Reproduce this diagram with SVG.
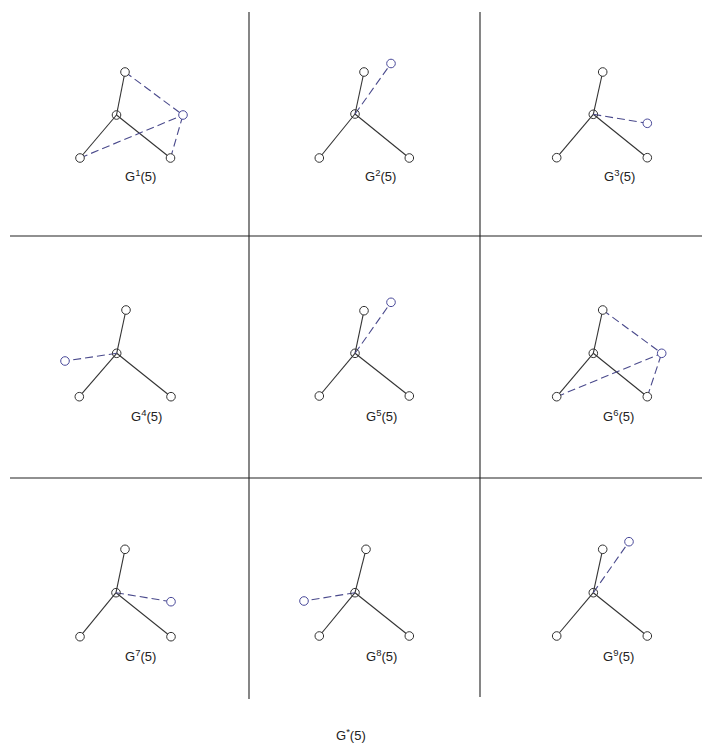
<svg xmlns="http://www.w3.org/2000/svg" width="702" height="745" viewBox="0 0 702 745">
<style>
.grid{stroke:#222;stroke-width:1.1;fill:none}
.e{stroke:#333;stroke-width:1.1;fill:none}
.d{stroke:#4a4a8c;stroke-width:1.1;stroke-dasharray:8 4;fill:none}
.n{fill:#fff;stroke:#333;stroke-width:1}
.nc{fill:none;stroke:#333;stroke-width:1}
.nb{fill:#fff;stroke:#4a4a9a;stroke-width:1}
text{font-family:"Liberation Sans",Arial,sans-serif;font-size:13px;fill:#222}
.sup{font-size:9.5px}
</style>
<rect width="702" height="745" fill="#fff"/>
<g id="grid">
<line class="grid" x1="249" y1="12" x2="249" y2="699"/>
<line class="grid" x1="480" y1="12" x2="480" y2="697"/>
<line class="grid" x1="10" y1="236" x2="702" y2="236"/>
<line class="grid" x1="10" y1="478" x2="702" y2="478"/>
</g>
<g id="connectors">
<line class="e" x1="116.5" y1="115" x2="125" y2="72"/>
<line class="e" x1="116.5" y1="115" x2="80" y2="158"/>
<line class="e" x1="116.5" y1="115" x2="170.5" y2="158"/>
<line class="d" x1="125" y1="72" x2="183" y2="115"/>
<line class="d" x1="80" y1="158" x2="183" y2="115"/>
<line class="d" x1="170.5" y1="158" x2="183" y2="115"/>
<line class="e" x1="355" y1="114" x2="364" y2="72"/>
<line class="e" x1="355" y1="114" x2="319.3" y2="158"/>
<line class="e" x1="355" y1="114" x2="409.3" y2="158"/>
<line class="d" x1="355" y1="114" x2="391" y2="63.5"/>
<line class="e" x1="593.3" y1="114.3" x2="602.7" y2="72"/>
<line class="e" x1="593.3" y1="114.3" x2="556.7" y2="157.7"/>
<line class="e" x1="593.3" y1="114.3" x2="647.3" y2="157.7"/>
<line class="d" x1="593.3" y1="114.3" x2="647.3" y2="123.3"/>
<line class="e" x1="116.7" y1="353.3" x2="126" y2="310"/>
<line class="e" x1="116.7" y1="353.3" x2="79.3" y2="396.7"/>
<line class="e" x1="116.7" y1="353.3" x2="171" y2="396.7"/>
<line class="d" x1="116.7" y1="353.3" x2="65" y2="361"/>
<line class="e" x1="355" y1="353.3" x2="364" y2="310.7"/>
<line class="e" x1="355" y1="353.3" x2="319.3" y2="396"/>
<line class="e" x1="355" y1="353.3" x2="409.3" y2="396"/>
<line class="d" x1="355" y1="353.3" x2="391" y2="302.3"/>
<line class="e" x1="593.3" y1="353.3" x2="602.7" y2="310"/>
<line class="e" x1="593.3" y1="353.3" x2="556.7" y2="396.7"/>
<line class="e" x1="593.3" y1="353.3" x2="647.3" y2="396.7"/>
<line class="d" x1="602.7" y1="310" x2="661.7" y2="353.3"/>
<line class="d" x1="556.7" y1="396.7" x2="661.7" y2="353.3"/>
<line class="d" x1="647.3" y1="396.7" x2="661.7" y2="353.3"/>
<line class="e" x1="116" y1="592.7" x2="125" y2="549.3"/>
<line class="e" x1="116" y1="592.7" x2="80" y2="636.7"/>
<line class="e" x1="116" y1="592.7" x2="171" y2="636.7"/>
<line class="d" x1="116" y1="592.7" x2="171" y2="601.7"/>
<line class="e" x1="355" y1="592.7" x2="366" y2="549.3"/>
<line class="e" x1="355" y1="592.7" x2="319.3" y2="636"/>
<line class="e" x1="355" y1="592.7" x2="409.3" y2="636"/>
<line class="d" x1="355" y1="592.7" x2="304" y2="601"/>
<line class="e" x1="593.3" y1="592.7" x2="602.7" y2="549.3"/>
<line class="e" x1="593.3" y1="592.7" x2="556.7" y2="636"/>
<line class="e" x1="593.3" y1="592.7" x2="647.3" y2="636"/>
<line class="d" x1="593.3" y1="592.7" x2="629" y2="541.7"/>
</g>
<g id="g1">
<g id="g1-c"><circle class="nc" cx="116.5" cy="115" r="4.3"/></g>
<g id="g1-t"><circle class="n" cx="125" cy="72" r="4.3"/></g>
<g id="g1-l"><circle class="n" cx="80" cy="158" r="4.3"/></g>
<g id="g1-r"><circle class="n" cx="170.5" cy="158" r="4.3"/></g>
<g id="g1-x"><circle class="nb" cx="183" cy="115" r="4.3"/></g>
<text x="125" y="181">G<tspan class="sup" dy="-5">1</tspan><tspan dy="5">(5)</tspan></text>
</g>
<g id="g2">
<g id="g2-c"><circle class="nc" cx="355" cy="114" r="4.3"/></g>
<g id="g2-t"><circle class="n" cx="364" cy="72" r="4.3"/></g>
<g id="g2-l"><circle class="n" cx="319.3" cy="158" r="4.3"/></g>
<g id="g2-r"><circle class="n" cx="409.3" cy="158" r="4.3"/></g>
<g id="g2-x"><circle class="nb" cx="391" cy="63.5" r="4.3"/></g>
<text x="365" y="181">G<tspan class="sup" dy="-5">2</tspan><tspan dy="5">(5)</tspan></text>
</g>
<g id="g3">
<g id="g3-c"><circle class="nc" cx="593.3" cy="114.3" r="4.3"/></g>
<g id="g3-t"><circle class="n" cx="602.7" cy="72" r="4.3"/></g>
<g id="g3-l"><circle class="n" cx="556.7" cy="157.7" r="4.3"/></g>
<g id="g3-r"><circle class="n" cx="647.3" cy="157.7" r="4.3"/></g>
<g id="g3-x"><circle class="nb" cx="647.3" cy="123.3" r="4.3"/></g>
<text x="604" y="181">G<tspan class="sup" dy="-5">3</tspan><tspan dy="5">(5)</tspan></text>
</g>
<g id="g4">
<g id="g4-c"><circle class="nc" cx="116.7" cy="353.3" r="4.3"/></g>
<g id="g4-t"><circle class="n" cx="126" cy="310" r="4.3"/></g>
<g id="g4-l"><circle class="n" cx="79.3" cy="396.7" r="4.3"/></g>
<g id="g4-r"><circle class="n" cx="171" cy="396.7" r="4.3"/></g>
<g id="g4-x"><circle class="nb" cx="65" cy="361" r="4.3"/></g>
<text x="131" y="421">G<tspan class="sup" dy="-5">4</tspan><tspan dy="5">(5)</tspan></text>
</g>
<g id="g5">
<g id="g5-c"><circle class="nc" cx="355" cy="353.3" r="4.3"/></g>
<g id="g5-t"><circle class="n" cx="364" cy="310.7" r="4.3"/></g>
<g id="g5-l"><circle class="n" cx="319.3" cy="396" r="4.3"/></g>
<g id="g5-r"><circle class="n" cx="409.3" cy="396" r="4.3"/></g>
<g id="g5-x"><circle class="nb" cx="391" cy="302.3" r="4.3"/></g>
<text x="366" y="421">G<tspan class="sup" dy="-5">5</tspan><tspan dy="5">(5)</tspan></text>
</g>
<g id="g6">
<g id="g6-c"><circle class="nc" cx="593.3" cy="353.3" r="4.3"/></g>
<g id="g6-t"><circle class="n" cx="602.7" cy="310" r="4.3"/></g>
<g id="g6-l"><circle class="n" cx="556.7" cy="396.7" r="4.3"/></g>
<g id="g6-r"><circle class="n" cx="647.3" cy="396.7" r="4.3"/></g>
<g id="g6-x"><circle class="nb" cx="661.7" cy="353.3" r="4.3"/></g>
<text x="603" y="421">G<tspan class="sup" dy="-5">6</tspan><tspan dy="5">(5)</tspan></text>
</g>
<g id="g7">
<g id="g7-c"><circle class="nc" cx="116" cy="592.7" r="4.3"/></g>
<g id="g7-t"><circle class="n" cx="125" cy="549.3" r="4.3"/></g>
<g id="g7-l"><circle class="n" cx="80" cy="636.7" r="4.3"/></g>
<g id="g7-r"><circle class="n" cx="171" cy="636.7" r="4.3"/></g>
<g id="g7-x"><circle class="nb" cx="171" cy="601.7" r="4.3"/></g>
<text x="125" y="661">G<tspan class="sup" dy="-5">7</tspan><tspan dy="5">(5)</tspan></text>
</g>
<g id="g8">
<g id="g8-c"><circle class="nc" cx="355" cy="592.7" r="4.3"/></g>
<g id="g8-t"><circle class="n" cx="366" cy="549.3" r="4.3"/></g>
<g id="g8-l"><circle class="n" cx="319.3" cy="636" r="4.3"/></g>
<g id="g8-r"><circle class="n" cx="409.3" cy="636" r="4.3"/></g>
<g id="g8-x"><circle class="nb" cx="304" cy="601" r="4.3"/></g>
<text x="366" y="661">G<tspan class="sup" dy="-5">8</tspan><tspan dy="5">(5)</tspan></text>
</g>
<g id="g9">
<g id="g9-c"><circle class="nc" cx="593.3" cy="592.7" r="4.3"/></g>
<g id="g9-t"><circle class="n" cx="602.7" cy="549.3" r="4.3"/></g>
<g id="g9-l"><circle class="n" cx="556.7" cy="636" r="4.3"/></g>
<g id="g9-r"><circle class="n" cx="647.3" cy="636" r="4.3"/></g>
<g id="g9-x"><circle class="nb" cx="629" cy="541.7" r="4.3"/></g>
<text x="603" y="661">G<tspan class="sup" dy="-5">9</tspan><tspan dy="5">(5)</tspan></text>
</g>
<g id="caption">
<text x="336" y="740">G<tspan class="sup" dy="-5">*</tspan><tspan dy="5">(5)</tspan></text>
</g>
</svg>
